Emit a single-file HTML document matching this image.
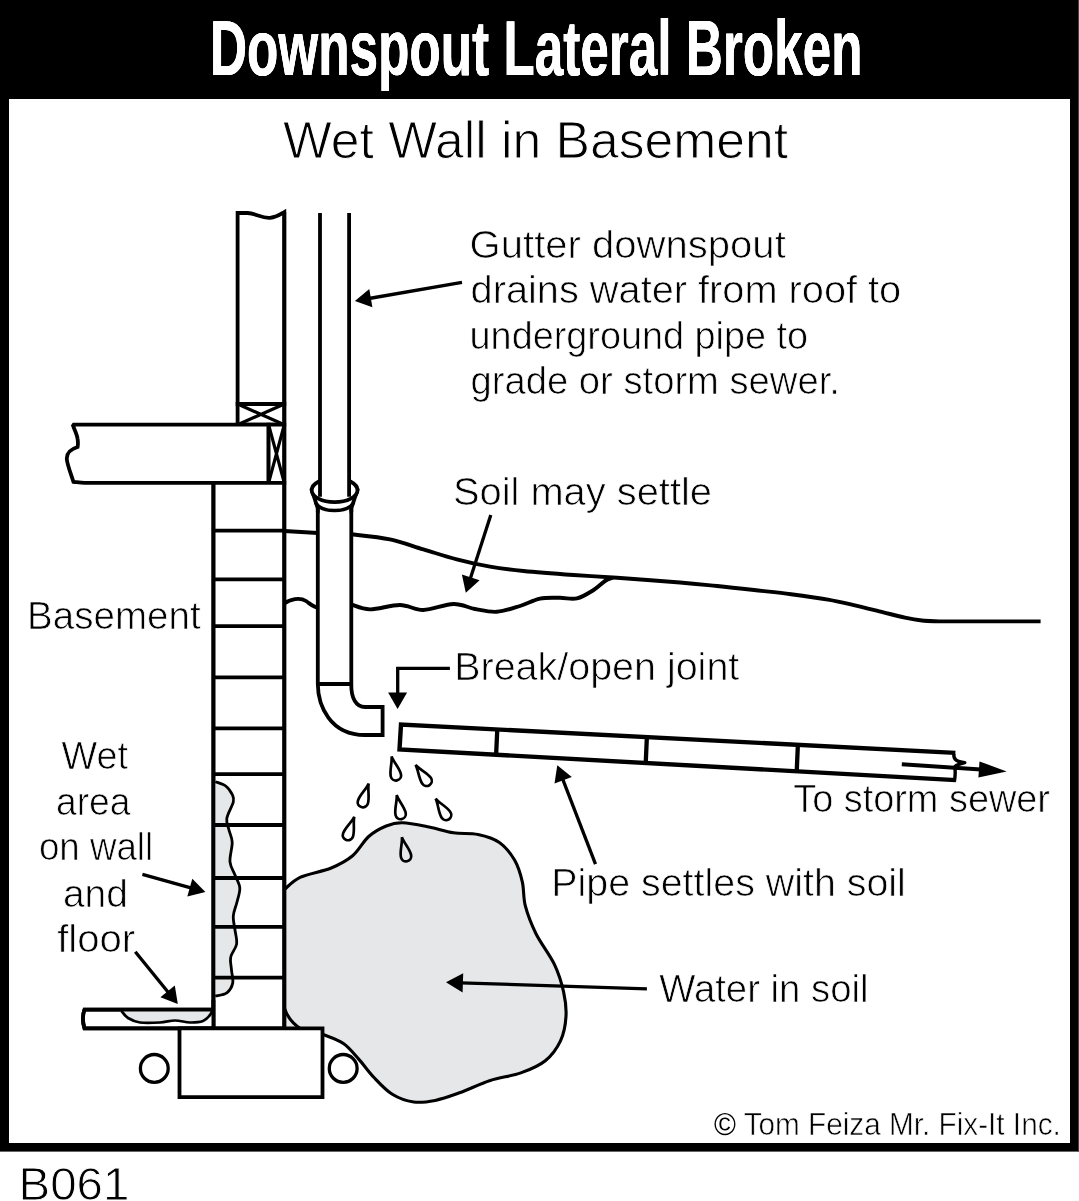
<!DOCTYPE html>
<html lang="en">
<head>
<meta charset="utf-8">
<title>Downspout Lateral Broken</title>
<style>
html,body{margin:0;padding:0;background:#fff;}
body{width:1079px;height:1201px;position:relative;overflow:hidden;font-family:"Liberation Sans",sans-serif;}
#art{position:absolute;left:0;top:0;width:1079px;height:1201px;display:block;will-change:transform;}
#title{position:absolute;left:210.3px;top:7.5px;margin:0;color:#fff;font:bold 78px/80px "Liberation Sans",sans-serif;white-space:nowrap;transform-origin:0 0;transform:scaleX(.6575);text-shadow:.25px 0 0 #fff,-.25px 0 0 #fff;letter-spacing:0;}
.k{fill:none;stroke:#000;stroke-width:3.8;stroke-linejoin:miter;stroke-linecap:butt;}
.w{fill:#fff;}
.g{fill:#e6e7e8;}
.m{fill:none;stroke:#000;stroke-width:3.9;stroke-linecap:butt;stroke-linejoin:round;}
.t{fill:none;stroke:#000;stroke-width:2.6;stroke-linecap:butt;}
.a{fill:#000;stroke:none;}
text{font-family:"Liberation Sans",sans-serif;fill:#000;stroke:#fff;stroke-linejoin:round;}
</style>
</head>
<body>
<svg id="art" width="1079" height="1201" viewBox="0 0 1079 1201">
<!-- frame -->
<rect x="0" y="0" width="1079" height="1201" fill="#fff"/>
<rect x="0" y="0" width="1079" height="99" fill="#000"/>
<rect x="0" y="0" width="9" height="1151" fill="#000"/>
<rect x="1070" y="0" width="9" height="1151" fill="#000"/>
<rect x="0" y="1143" width="1079" height="8.6" fill="#000"/>
<rect x="1078" y="0" width="1" height="1151.6" fill="#444"/>
<path class="g" d="M284.3 889.5 C287.0 887.5 292.8 880.8 300.6 877.2 C308.4 873.6 322.5 871.6 331.2 868.0 C339.9 864.4 346.4 861.0 352.6 855.8 C358.9 850.5 363.1 841.5 368.7 836.5 C374.3 831.5 380.6 828.3 386.2 826.0 C391.8 823.7 395.4 822.5 402.5 822.7 C409.6 822.9 420.5 825.3 429.0 827.0 C437.5 828.7 445.3 831.5 453.5 832.8 C461.7 834.0 470.4 832.9 478.0 834.5 C485.6 836.1 493.3 838.2 499.4 842.5 C505.5 846.8 510.9 853.8 514.7 860.3 C518.5 866.8 520.5 874.1 522.3 881.8 C524.1 889.4 523.1 897.6 525.4 906.2 C527.7 914.9 531.2 924.0 536.0 933.7 C540.8 943.4 549.8 954.6 554.4 964.3 C559.0 974.0 561.7 983.2 563.6 991.9 C565.5 1000.6 566.5 1008.1 566.0 1016.3 C565.5 1024.5 564.0 1033.4 560.5 1040.8 C557.0 1048.2 551.9 1055.3 545.3 1060.7 C538.7 1066.1 530.0 1069.6 520.8 1072.9 C511.6 1076.2 500.4 1077.2 490.2 1080.5 C480.0 1083.8 468.8 1089.5 459.6 1092.8 C450.4 1096.1 442.9 1098.9 435.2 1100.4 C427.5 1101.9 420.8 1103.0 413.7 1102.0 C406.6 1101.0 398.9 1098.4 392.3 1094.3 C385.7 1090.2 379.6 1083.4 374.0 1077.5 C368.4 1071.6 363.8 1064.8 358.7 1059.1 C353.6 1053.4 349.3 1047.6 343.4 1043.5 C337.4 1039.4 326.4 1036.0 323.0 1034.5 L322.5 1028.3 L284.3 1028.3 Z"/>
<path class="m" style="stroke-width:3.1" d="M284.3 889.5 C287.0 887.5 292.8 880.8 300.6 877.2 C308.4 873.6 322.5 871.6 331.2 868.0 C339.9 864.4 346.4 861.0 352.6 855.8 C358.9 850.5 363.1 841.5 368.7 836.5 C374.3 831.5 380.6 828.3 386.2 826.0 C391.8 823.7 395.4 822.5 402.5 822.7 C409.6 822.9 420.5 825.3 429.0 827.0 C437.5 828.7 445.3 831.5 453.5 832.8 C461.7 834.0 470.4 832.9 478.0 834.5 C485.6 836.1 493.3 838.2 499.4 842.5 C505.5 846.8 510.9 853.8 514.7 860.3 C518.5 866.8 520.5 874.1 522.3 881.8 C524.1 889.4 523.1 897.6 525.4 906.2 C527.7 914.9 531.2 924.0 536.0 933.7 C540.8 943.4 549.8 954.6 554.4 964.3 C559.0 974.0 561.7 983.2 563.6 991.9 C565.5 1000.6 566.5 1008.1 566.0 1016.3 C565.5 1024.5 564.0 1033.4 560.5 1040.8 C557.0 1048.2 551.9 1055.3 545.3 1060.7 C538.7 1066.1 530.0 1069.6 520.8 1072.9 C511.6 1076.2 500.4 1077.2 490.2 1080.5 C480.0 1083.8 468.8 1089.5 459.6 1092.8 C450.4 1096.1 442.9 1098.9 435.2 1100.4 C427.5 1101.9 420.8 1103.0 413.7 1102.0 C406.6 1101.0 398.9 1098.4 392.3 1094.3 C385.7 1090.2 379.6 1083.4 374.0 1077.5 C368.4 1071.6 363.8 1064.8 358.7 1059.1 C353.6 1053.4 349.3 1047.6 343.4 1043.5 C337.4 1039.4 326.4 1036.0 323.0 1034.5"/>
<path class="m" style="stroke-width:3.1" d="M284.3 1008 C287 1016 293 1024 301 1029"/>
<path class="m" d="M351.3 534.3 C357.8 535.1 378.0 536.9 390.0 539.4 C402.0 541.9 412.3 546.1 423.4 549.4 C434.5 552.7 445.7 556.5 456.8 559.4 C467.9 562.3 478.9 564.8 490.0 566.7 C501.1 568.6 509.6 569.6 523.5 571.0 C537.4 572.4 558.0 573.9 573.6 575.0 C589.2 576.1 599.3 576.5 617.0 577.7 C634.7 579.0 663.3 581.1 680.0 582.5 C696.7 583.9 704.7 584.8 717.0 586.0 C729.3 587.2 741.7 588.6 754.0 590.0 C766.3 591.4 778.7 592.6 791.0 594.2 C803.3 595.8 817.2 597.7 828.0 599.6 C838.8 601.5 846.8 603.5 856.0 605.6 C865.2 607.7 875.2 610.4 883.4 612.4 C891.6 614.4 898.6 616.2 905.0 617.6 C911.4 619.0 916.3 619.9 922.0 620.5 C927.7 621.1 936.2 621.2 939.0 621.4 L1040.6 621.4"/>
<path class="m" d="M284.3 531 L318 533"/>
<path class="m" d="M351.3 604.5 C354.4 605.3 361.9 609.3 370.0 609.4 C378.1 609.5 391.1 604.9 400.0 605.0 C408.9 605.1 414.5 610.2 423.4 610.0 C432.3 609.8 444.8 604.2 453.4 604.0 C462.0 603.8 467.8 607.7 475.0 609.0 C482.2 610.3 489.3 612.3 496.8 611.8 C504.3 611.3 512.8 608.2 520.0 606.0 C527.2 603.8 533.3 600.0 540.0 598.6 C546.7 597.2 553.8 597.8 560.0 597.8 C566.2 597.8 571.4 599.7 577.0 598.4 C582.6 597.1 588.9 592.9 593.6 590.0 C598.3 587.1 601.8 583.1 605.0 581.0 C608.2 578.9 611.7 578.2 613.0 577.6"/>
<path class="m" d="M284.3 603.5 C290 599 300 597 306 601 C311 604.5 314 607.5 318 607.5"/>
<path class="k w" d="M237.6 404 L237.6 213 L247.6 213 C256 213.5 262 218.5 270 217.8 C277 217.2 281 214 284.3 212 L284.3 404 Z"/>
<path class="k w" d="M237.6 404 H284.3 V424.7 H237.6 Z"/>
<path class="k" style="stroke-width:3.2" d="M237.6 404 L284.3 424.7 M284.3 404 L237.6 424.7"/>
<path class="k w" style="stroke-miterlimit:1.6" d="M268.6 424.7 L72.8 424.7 C74 429 77 434 77.6 439 C78.2 443 78 445 77.6 447 C71 449 66.5 452.5 66.8 459 C67 464 71 474 73.4 481.8 C77 482.2 81 482.9 84.5 482.9 L268.6 482.9 Z"/>
<path class="k w" d="M268.6 424.7 H284.3 V482.9 H268.6 Z"/>
<path class="k" style="stroke-width:3.2" d="M268.6 424.7 L284.3 482.9 M284.3 424.7 L268.6 482.9"/>
<path class="k w" d="M213.4 482.9 H284.3 V1028.3 H213.4 Z"/>
<path class="g" d="M215.3 781.7 C217.0 782.4 222.8 783.8 225.7 786.0 C228.6 788.2 231.2 792.3 232.5 795.0 C233.8 797.7 234.2 798.1 233.3 802.0 C232.4 805.9 227.5 813.8 226.8 818.5 C226.1 823.2 228.1 826.0 229.0 830.0 C229.9 834.0 232.0 837.0 232.2 842.3 C232.4 847.6 229.5 856.3 230.0 861.8 C230.5 867.2 233.4 870.7 235.0 875.0 C236.6 879.3 239.5 883.3 239.8 887.8 C240.1 892.3 238.1 897.3 237.0 902.0 C235.9 906.7 233.6 911.3 233.3 916.0 C233.0 920.7 234.4 925.3 235.0 930.0 C235.6 934.7 237.3 939.6 236.6 944.1 C235.9 948.6 231.5 952.8 230.7 957.1 C229.8 961.4 231.2 965.7 231.5 970.0 C231.8 974.3 233.5 979.3 232.7 983.1 C231.9 986.9 229.7 990.6 226.8 992.8 C223.9 995.0 217.2 995.5 215.3 996.1 Z"/>
<path class="t" style="stroke-width:2.8" d="M215.3 781.7 C217.0 782.4 222.8 783.8 225.7 786.0 C228.6 788.2 231.2 792.3 232.5 795.0 C233.8 797.7 234.2 798.1 233.3 802.0 C232.4 805.9 227.5 813.8 226.8 818.5 C226.1 823.2 228.1 826.0 229.0 830.0 C229.9 834.0 232.0 837.0 232.2 842.3 C232.4 847.6 229.5 856.3 230.0 861.8 C230.5 867.2 233.4 870.7 235.0 875.0 C236.6 879.3 239.5 883.3 239.8 887.8 C240.1 892.3 238.1 897.3 237.0 902.0 C235.9 906.7 233.6 911.3 233.3 916.0 C233.0 920.7 234.4 925.3 235.0 930.0 C235.6 934.7 237.3 939.6 236.6 944.1 C235.9 948.6 231.5 952.8 230.7 957.1 C229.8 961.4 231.2 965.7 231.5 970.0 C231.8 974.3 233.5 979.3 232.7 983.1 C231.9 986.9 229.7 990.6 226.8 992.8 C223.9 995.0 217.2 995.5 215.3 996.1"/>
<path class="k" d="M213.4 530.7 H284.3 M213.4 579.4 H284.3 M213.4 626.2 H284.3 M213.4 677.3 H284.3 M213.4 728.4 H284.3 M213.4 774.1 H284.3 M213.4 825.0 H284.3 M213.4 878.0 H284.3 M213.4 926.8 H284.3 M213.4 977.7 H284.3"/>
<path class="k" d="M213.4 482.9 V1028.3 M284.3 212 V1028.3"/>
<path class="k w" d="M213.4 1009.7 L84.5 1009.7 C82.5 1015 82.5 1022 84.5 1028.3 L213.4 1028.3"/>
<path class="g" d="M121.5 1011.0 C122.6 1012.2 124.9 1016.1 128.0 1018.0 C131.1 1019.9 134.7 1021.8 140.0 1022.5 C145.3 1023.2 154.2 1022.8 160.0 1022.5 C165.8 1022.2 170.0 1020.5 175.0 1020.5 C180.0 1020.5 185.3 1022.4 190.0 1022.5 C194.7 1022.6 199.7 1022.2 203.0 1021.0 C206.3 1019.8 208.5 1016.7 210.0 1015.0 C211.5 1013.3 211.7 1011.7 212.0 1011.0 Z"/>
<path class="t" style="stroke-width:2.7" d="M121.5 1011.0 C122.6 1012.2 124.9 1016.1 128.0 1018.0 C131.1 1019.9 134.7 1021.8 140.0 1022.5 C145.3 1023.2 154.2 1022.8 160.0 1022.5 C165.8 1022.2 170.0 1020.5 175.0 1020.5 C180.0 1020.5 185.3 1022.4 190.0 1022.5 C194.7 1022.6 199.7 1022.2 203.0 1021.0 C206.3 1019.8 208.5 1016.7 210.0 1015.0 C211.5 1013.3 211.7 1011.7 212.0 1011.0"/>
<path class="k" d="M213.4 1009.7 L84.5 1009.7 C82.5 1015 82.5 1022 84.5 1028.3 L213.4 1028.3"/>
<path class="k" d="M213.4 1000 V1030.2"/>
<path class="k w" d="M179.5 1028.3 H322.5 V1097.1 H179.5 Z"/>
<circle class="m w" style="stroke-width:3.3" cx="154.3" cy="1068.4" r="13.9"/>
<circle class="m w" style="stroke-width:3.3" cx="343.2" cy="1068.4" r="13.9"/>
<path class="w" d="M311.6 489.5 L317.8 508.5 H351.3 L357.6 489.5 Z"/>
<path class="k w" d="M317.8 508 V684 C318 705.5 330 735 365 735 H382.6 V707 H365 C356 707 351 698 351.3 684 V508"/>
<path class="k" style="stroke-linecap:round;stroke-linejoin:round" d="M311.6 489.5 L317.8 508.5 V512 M357.6 489.5 L351.3 508.5 V512"/>
<path class="k" d="M317.8 684 H351.3"/>
<path class="k" style="stroke-width:3.6" d="M315.4 502.6 C322 513.2 347 513.2 353.8 502.6"/>
<ellipse class="k w" cx="334.6" cy="490.2" rx="22.9" ry="12" style="stroke-width:3.8"/>
<path class="w" d="M320 213 H349.1 V496.7 H320 Z"/>
<path class="k" d="M320 213 V496.7 M349.1 213 V496.7"/>
<path class="w" d="M401 724.6 L955.2 752.9 L955.7 780.1 L399.5 749.4 Z"/>
<path class="k" style="stroke-width:4.4" d="M955.4 752.9 L401 724.6 L399.5 749.4 L955.9 780.1"/>
<path class="k" style="stroke-width:3.4;stroke-linejoin:round" d="M953.9 753.8 C953.2 759.7 957 762 964.8 762.7 C960 764 955.4 764.8 954.8 766.8 C955.4 771.5 955.4 776 954.4 781.4"/>
<path class="k" style="stroke-width:4.3" d="M497.3 729.0 L496.1 755.2 M646.9 736.7 L645.7 763.5 M797.9 744.4 L796.7 771.8"/>
<path class="t" style="stroke-width:2.7;stroke-linejoin:miter" transform="translate(391.6 756.4) rotate(-12.7)" d="M0 0 C0.6 6 5.2 13 5.2 19.4 A5.2 5.2 0 0 1 -5.2 19.4 C-5.2 13 -0.6 6 0 0 Z"/>
<path class="t" style="stroke-width:2.7;stroke-linejoin:miter" transform="translate(415.5 764.9) rotate(-34.9)" d="M0 0 C0.6 6 5.2 13 5.2 19.4 A5.2 5.2 0 0 1 -5.2 19.4 C-5.2 13 -0.6 6 0 0 Z"/>
<path class="t" style="stroke-width:2.7;stroke-linejoin:miter" transform="translate(368.7 783.6) rotate(17.4)" d="M0 0 C0.6 6 5.2 13 5.2 19.4 A5.2 5.2 0 0 1 -5.2 19.4 C-5.2 13 -0.6 6 0 0 Z"/>
<path class="t" style="stroke-width:2.7;stroke-linejoin:miter" transform="translate(396.7 795.0) rotate(-11.7)" d="M0 0 C0.6 6 5.2 13 5.2 19.4 A5.2 5.2 0 0 1 -5.2 19.4 C-5.2 13 -0.6 6 0 0 Z"/>
<path class="t" style="stroke-width:2.7;stroke-linejoin:miter" transform="translate(435.6 798.6) rotate(-32.6)" d="M0 0 C0.6 6 5.2 13 5.2 19.4 A5.2 5.2 0 0 1 -5.2 19.4 C-5.2 13 -0.6 6 0 0 Z"/>
<path class="t" style="stroke-width:2.7;stroke-linejoin:miter" transform="translate(354.3 816.7) rotate(18.9)" d="M0 0 C0.6 6 5.2 13 5.2 19.4 A5.2 5.2 0 0 1 -5.2 19.4 C-5.2 13 -0.6 6 0 0 Z"/>
<path class="t" style="stroke-width:2.7;stroke-linejoin:miter" transform="translate(401.9 837.2) rotate(-12.3)" d="M0 0 C0.6 6 5.2 13 5.2 19.4 A5.2 5.2 0 0 1 -5.2 19.4 C-5.2 13 -0.6 6 0 0 Z"/>
<path class="t" style="stroke-width:3.3" d="M462.0 282.3 L368.9 298.5"/><path class="a" d="M354.9 300.9 L369.3 289.0 L372.4 307.2 Z"/>
<path class="t" style="stroke-width:3.3" d="M490.8 515.0 L470.1 579.3"/><path class="a" d="M465.8 592.8 L461.9 574.5 L479.6 580.2 Z"/>
<path class="t" style="stroke-width:3.3" d="M142.4 874.4 L191.7 888.2"/><path class="a" d="M205.4 892.0 L187.3 896.6 L192.3 878.7 Z"/>
<path class="t" style="stroke-width:3.3" d="M135.3 951.7 L168.8 993.0"/><path class="a" d="M177.8 1004.0 L160.4 997.3 L174.8 985.6 Z"/>
<path class="t" style="stroke-width:3.3" d="M595.5 864.2 L562.4 778.4"/><path class="a" d="M557.3 765.2 L571.8 777.0 L554.5 783.6 Z"/>
<path class="t" style="stroke-width:3.3" d="M646.9 988.9 L460.9 982.8"/><path class="a" d="M446.0 982.3 L463.2 973.2 L462.6 992.5 Z"/>
<path class="t" style="stroke-width:4" d="M901.8 764.2 L981.0 769.6"/><path class="a" d="M1006.7 771.4 L978.4 777.6 L979.5 761.4 Z"/>
<path class="t" style="stroke-width:3.3;stroke-linejoin:miter" d="M449.9 668.3 H397.7 V694"/>
<path class="a" d="M388.1 692.4 H407.1 L397.6 708.9 Z"/>
<text x="283.0" y="157.5" font-size="52" stroke-width="0.99" textLength="505.0" lengthAdjust="spacingAndGlyphs">Wet Wall in Basement</text>
<text x="469.6" y="257.7" font-size="38" stroke-width="0.72" textLength="316.2" lengthAdjust="spacingAndGlyphs">Gutter downspout</text>
<text x="470.6" y="302.7" font-size="38" stroke-width="0.72" textLength="430.6" lengthAdjust="spacingAndGlyphs">drains water from roof to</text>
<text x="469.6" y="349.0" font-size="38" stroke-width="0.72" textLength="338.5" lengthAdjust="spacingAndGlyphs">underground pipe to</text>
<text x="470.6" y="394.4" font-size="38" stroke-width="0.72" textLength="369.3" lengthAdjust="spacingAndGlyphs">grade or storm sewer.</text>
<text x="452.9" y="504.5" font-size="38" stroke-width="0.72" textLength="259.1" lengthAdjust="spacingAndGlyphs">Soil may settle</text>
<text x="454.2" y="679.5" font-size="38" stroke-width="0.72" textLength="285.1" lengthAdjust="spacingAndGlyphs">Break/open joint</text>
<text x="27.1" y="629.3" font-size="38" stroke-width="0.72" textLength="173.5" lengthAdjust="spacingAndGlyphs">Basement</text>
<text x="61.6" y="768.7" font-size="38" stroke-width="0.72" textLength="66.4" lengthAdjust="spacingAndGlyphs">Wet</text>
<text x="56.0" y="815.2" font-size="38" stroke-width="0.72" textLength="74.5" lengthAdjust="spacingAndGlyphs">area</text>
<text x="38.9" y="860.4" font-size="38" stroke-width="0.72" textLength="114.2" lengthAdjust="spacingAndGlyphs">on wall</text>
<text x="62.9" y="906.9" font-size="38" stroke-width="0.72" textLength="65.1" lengthAdjust="spacingAndGlyphs">and</text>
<text x="57.2" y="952.1" font-size="38" stroke-width="0.72" textLength="77.9" lengthAdjust="spacingAndGlyphs">floor</text>
<text x="793.2" y="811.7" font-size="38" stroke-width="0.72" textLength="256.8" lengthAdjust="spacingAndGlyphs">To storm sewer</text>
<text x="551.3" y="896.0" font-size="38" stroke-width="0.72" textLength="354.5" lengthAdjust="spacingAndGlyphs">Pipe settles with soil</text>
<text x="659.2" y="1001.6" font-size="38" stroke-width="0.72" textLength="209.3" lengthAdjust="spacingAndGlyphs">Water in soil</text>
<text x="714.0" y="1135.0" font-size="31" stroke-width="0.59" textLength="346.8" lengthAdjust="spacingAndGlyphs"><tspan stroke="none">©</tspan> Tom Feiza Mr. Fix-It Inc.</text>
<text x="18.5" y="1200.2" font-size="47" stroke-width="0.89" textLength="110.8" lengthAdjust="spacingAndGlyphs">B061</text>
</svg>
<h1 id="title">Downspout Lateral Broken</h1>
</body>
</html>
